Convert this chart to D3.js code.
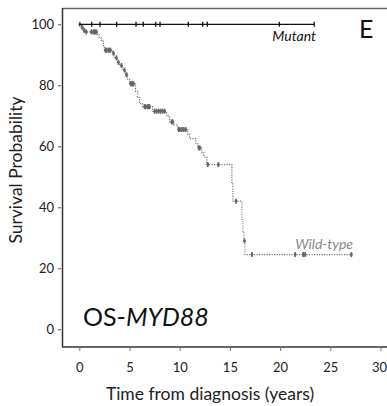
<!DOCTYPE html>
<html>
<head>
<meta charset="utf-8">
<script src="https://cdn.jsdelivr.net/npm/d3@7"></script>
<style>
  body { margin: 0; background: #fff; }
  text { font-family: Lato, "Open Sans", sans-serif; }
</style>
</head>
<body>
<svg id="km" width="387" height="406"></svg>
<script>
var svg = d3.select("#km");

// wild-type: step times (years) and survival (%) after each step
var wtTime = [0, 0.2, 0.4, 0.6, 1.8, 2.0, 2.2, 2.4, 2.5, 3.3, 3.5, 3.8, 4.0, 4.3, 4.6, 4.8, 5.0,
  5.6, 5.8, 6.0, 6.3, 7.3, 8.7, 9.0, 9.4, 9.8, 10.8, 11.0, 11.6, 11.8, 12.2, 12.4, 12.7,
  15.2, 15.3, 16.2, 16.3, 16.4, 16.5];
var wtSurv = [100, 99, 98, 97.5, 96.5, 95.5, 94.5, 93, 91.5, 90.5, 89, 87.5, 86.5, 85, 83.5, 82, 80.5,
  78, 76, 74, 73, 71.5, 70, 68, 67, 65.5, 64, 62.5, 61, 59.5, 58, 56.5, 54,
  48, 42, 36, 32, 29, 24.5];
var wtEnd = 27.1;
var wtCensor = [0.05, 0.3, 0.5, 0.7, 1.2, 1.4, 1.5, 1.6, 1.7, 2.6, 2.7, 2.9, 3.0, 3.1, 3.4, 3.7, 3.9,
  4.2, 4.5, 4.7, 5.1, 5.2, 5.3, 5.4, 6.5, 6.6, 6.8, 6.9, 7.0, 7.5, 7.7, 7.9, 8.1, 8.3, 8.5,
  9.2, 9.3, 9.9, 10.0, 10.2, 10.4, 10.6, 11.9, 12.0, 12.8, 13.85, 15.6, 16.45, 17.2, 21.5, 22.3, 22.5, 27.1];

// mutant: no events
var mutTime = [0];
var mutSurv = [100];
var mutEnd = 23.4;
var mutCensor = [1.24, 2.06, 3.72, 5.65, 6.37, 7.61, 8.04, 10.86, 12.29, 12.75, 19.92, 23.4];

var xTicks = [0, 5, 10, 15, 20, 25, 30];
var yTicks = [0, 20, 40, 60, 80, 100];

var x = d3.scaleLinear().domain([0, 30]).range([79.3, 380.5]);
var y = d3.scaleLinear().domain([0, 100]).range([329.3, 24.3]);

function stepPoints(times, surv, end) {
  var pts = [];
  times.forEach(function(t, i) { pts.push([t, surv[i]]); });
  pts.push([end, surv[surv.length - 1]]);
  return pts;
}

function survAt(times, surv, t) {
  var s = surv[0];
  times.forEach(function(tt, i) { if (tt <= t) s = surv[i]; });
  return s;
}

var line = d3.line()
  .x(function(d) { return x(d[0]); })
  .y(function(d) { return y(d[1]); })
  .curve(d3.curveStepAfter);

// frame
svg.append("line").attr("x1", 62.5).attr("x2", 387).attr("y1", 8.5).attr("y2", 8.5)
  .attr("stroke", "#666").attr("stroke-width", 1.3);
svg.append("line").attr("x1", 62.5).attr("x2", 62.5).attr("y1", 8).attr("y2", 347)
  .attr("stroke", "#333").attr("stroke-width", 1.5);
svg.append("line").attr("x1", 62).attr("x2", 387).attr("y1", 347).attr("y2", 347)
  .attr("stroke", "#333").attr("stroke-width", 1.5);

// y axis
var yAxis = svg.append("g").attr("transform", "translate(61,0)")
  .call(d3.axisLeft(y).tickValues(yTicks).tickSize(3).tickPadding(4));
yAxis.select(".domain").remove();
yAxis.selectAll("line").attr("stroke", "#555");
yAxis.selectAll("text").attr("font-size", 13).attr("fill", "#222")
  .attr("font-family", "Lato, 'Open Sans', sans-serif");

// x axis
var xAxis = svg.append("g").attr("transform", "translate(0,348)")
  .call(d3.axisBottom(x).tickValues(xTicks).tickSize(3).tickPadding(12));
xAxis.select(".domain").remove();
xAxis.selectAll("line").attr("stroke", "#777");
xAxis.selectAll("text").attr("font-size", 13).attr("fill", "#222")
  .attr("font-family", "Lato, 'Open Sans', sans-serif")
  .attr("dx", function(d) { return d === 30 ? -1.5 : 0; });

// wild-type curve
svg.append("path")
  .datum(stepPoints(wtTime, wtSurv, wtEnd))
  .attr("d", line)
  .attr("fill", "none")
  .attr("stroke", "#777")
  .attr("stroke-width", 1.2)
  .attr("stroke-dasharray", "1.2,1.3");

svg.append("g").selectAll("line")
  .data(wtCensor)
  .enter().append("line")
  .attr("x1", function(d) { return x(d); })
  .attr("x2", function(d) { return x(d); })
  .attr("y1", function(d) { return y(survAt(wtTime, wtSurv, d)) - 2.5; })
  .attr("y2", function(d) { return y(survAt(wtTime, wtSurv, d)) + 2.5; })
  .attr("stroke", "#666")
  .attr("stroke-width", 1.6);
svg.append("g").selectAll("circle")
  .data(wtCensor)
  .enter().append("circle")
  .attr("cx", function(d) { return x(d); })
  .attr("cy", function(d) { return y(survAt(wtTime, wtSurv, d)); })
  .attr("r", 1.4)
  .attr("fill", "#666");

// mutant curve
svg.append("path")
  .datum(stepPoints(mutTime, mutSurv, mutEnd))
  .attr("d", line)
  .attr("fill", "none")
  .attr("stroke", "#111")
  .attr("stroke-width", 1.3);

svg.append("g").selectAll("line")
  .data(mutCensor)
  .enter().append("line")
  .attr("x1", function(d) { return x(d); })
  .attr("x2", function(d) { return x(d); })
  .attr("y1", function(d) { return y(survAt(mutTime, mutSurv, d)) - 2.5; })
  .attr("y2", function(d) { return y(survAt(mutTime, mutSurv, d)) + 2.5; })
  .attr("stroke", "#111")
  .attr("stroke-width", 1.3);

// labels
svg.append("text").attr("x", 316).attr("y", 41).attr("text-anchor", "end")
  .attr("font-size", 14).attr("font-style", "italic").attr("fill", "#111").text("Mutant");
svg.append("text").attr("x", 353).attr("y", 249).attr("text-anchor", "end")
  .attr("font-size", 14).attr("font-style", "italic").attr("fill", "#888").text("Wild-type");
svg.append("text").attr("x", 359).attr("y", 38).attr("font-size", 25).attr("fill", "#111").text("E");

var os = svg.append("text").attr("x", 83).attr("y", 326).attr("font-size", 25).attr("fill", "#111");
os.append("tspan").text("OS-");
os.append("tspan").attr("font-style", "italic").text("MYD88");

svg.append("text").attr("x", 210).attr("y", 400).attr("text-anchor", "middle")
  .attr("font-size", 17.5).attr("fill", "#222").text("Time from diagnosis (years)");
svg.append("text").attr("transform", "translate(22,170) rotate(-90)").attr("text-anchor", "middle")
  .attr("font-size", 17.5).attr("fill", "#222").text("Survival Probability");
</script>
</body>
</html>
